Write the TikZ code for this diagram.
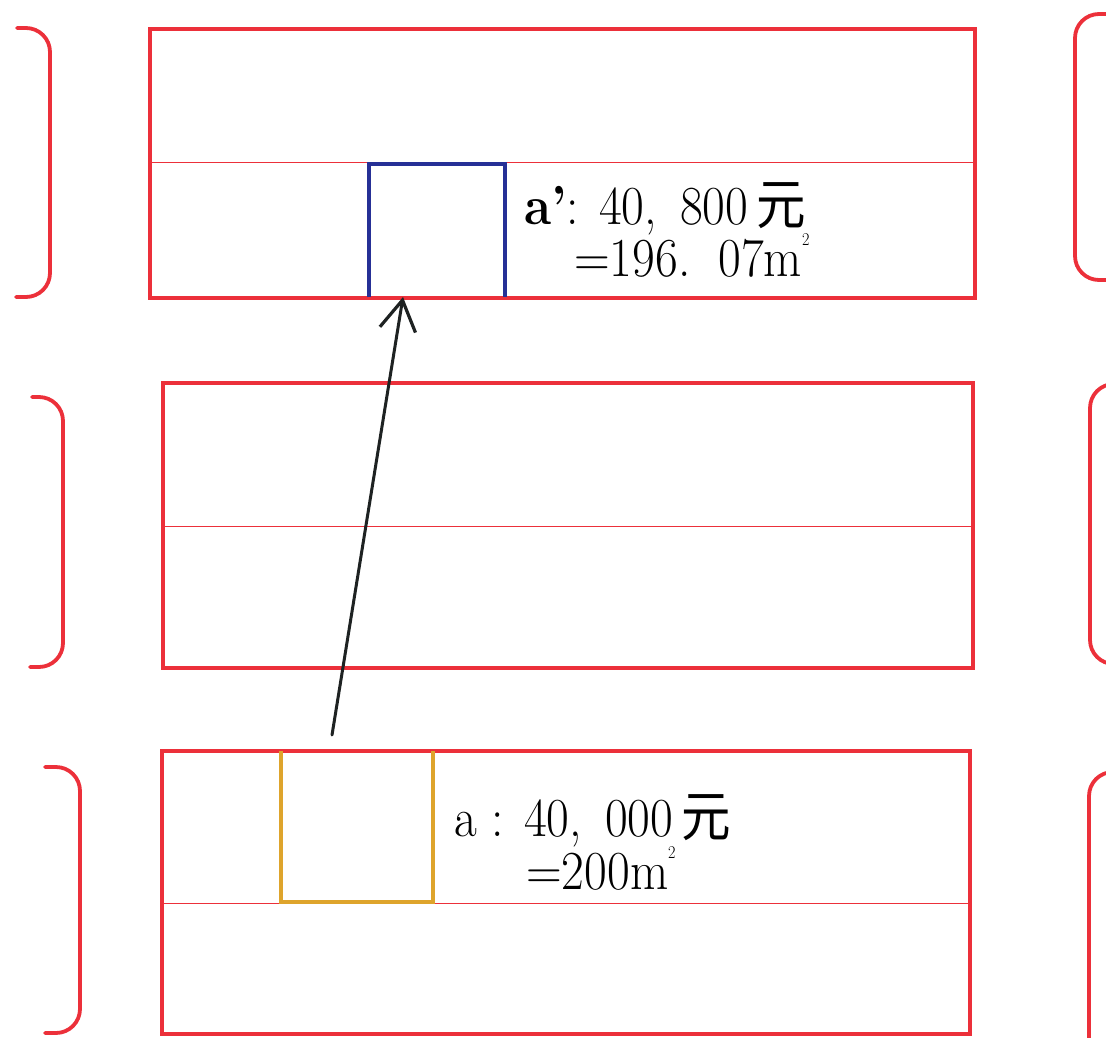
\documentclass[tikz,border=0pt]{standalone}
\usepackage{fontspec}
\newfontfamily\cjk{Noto Sans CJK SC}
\usetikzlibrary{arrows.meta}
\definecolor{redline}{RGB}{236,48,58}
\definecolor{bluesq}{RGB}{38,48,150}
\definecolor{orangesq}{RGB}{222,164,44}
\definecolor{arrowc}{RGB}{30,34,34}
\tikzset{
  frame/.style={draw=redline, line width=3.5pt},
  divider/.style={draw=redline, line width=1pt},
  bracket/.style={draw=redline, line width=3.8pt, rounded corners=24pt, line cap=round},
  bluebox/.style={draw=bluesq, line width=3.5pt},
  orangebox/.style={draw=orangesq, line width=3.5pt},
  label/.style={inner sep=0pt, anchor=base west, font=\fontsize{55}{60}\selectfont},
  link/.style={draw=arrowc, line width=3pt, line cap=round, -{Straight Barb[length=30pt,width=36pt,line width=3.2pt]}}
}
\newcommand{\sqm}{m\raisebox{0.55em}{\fontsize{18}{18}\selectfont 2}}
\newcommand{\nar}[1]{\scalebox{0.9}[1]{#1}}
\begin{document}
\begin{tikzpicture}[x=1pt,y=-1pt]
\useasboundingbox[fill=white] (0,0) rectangle (1106,1037);

% left brackets
\draw[bracket] (17,28) -- (50,28) -- (50,297) -- (16,297);
\draw[bracket] (32,397) -- (63,397) -- (63,667) -- (30,667);
\draw[bracket] (45,767) -- (80,767) -- (80,1033) -- (45,1033);
% right brackets
\draw[bracket] (1108,14) -- (1075,14) -- (1075,280) -- (1108,280);
\draw[bracket] (1108,384) -- (1090,384) -- (1090,664) -- (1108,664);
\draw[bracket] (1108,772) -- (1089,772) -- (1089,1060);

% frames
\node[frame, inner sep=0pt, outer sep=0pt, minimum width=825pt, minimum height=269pt, anchor=north west] (top) at (150,29) {};
\draw[divider] (150,162) -- (975,162);
\node[frame, inner sep=0pt, outer sep=0pt, minimum width=810pt, minimum height=285pt, anchor=north west] (mid) at (163,383) {};
\draw[divider] (163,526) -- (973,526);
\node[frame, inner sep=0pt, outer sep=0pt, minimum width=808pt, minimum height=283pt, anchor=north west] (bot) at (162,751) {};
\draw[divider] (162,903) -- (970,903);

% squares
\draw[bluebox] (369,297) -- (369,164) -- (505,164) -- (505,297);
\draw[orangebox] (281,751) -- (281,902) -- (433,902) -- (433,751);

% texts
\node[label] (t1) at (524,224) {\nar{\textbf{a’}: 40,\, 800\,{\cjk 元}}};
\node[label] (t2) at (574,276) {\nar{=196.\, 07\sqm}};
\node[label] (b1) at (454,836) {\nar{a : 40,\, 000\,{\cjk 元}}};
\node[label] (b2) at (526,889) {\nar{=200\sqm}};

% arrow
\coordinate (tail) at (332,735);
\coordinate (tip) at (403,297);
\draw[link] (tail) -- (tip);
\end{tikzpicture}
\end{document}
